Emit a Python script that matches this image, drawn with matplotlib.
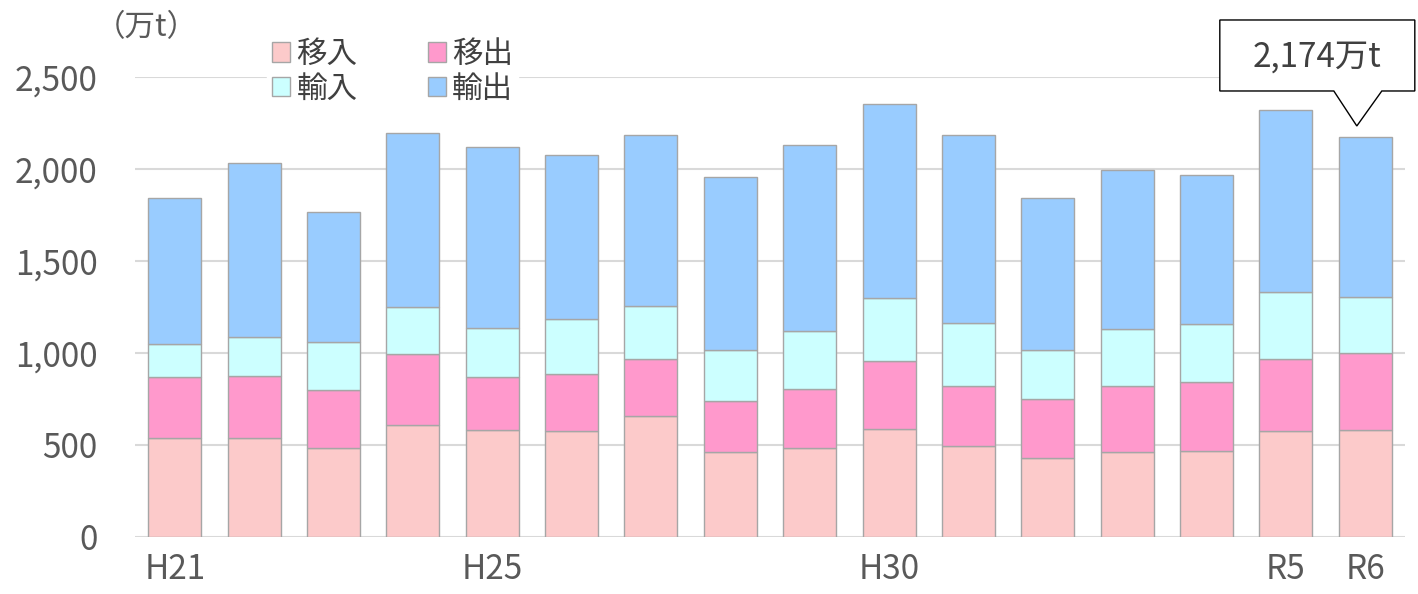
import matplotlib; matplotlib.use("Agg")
import matplotlib.pyplot as plt
import matplotlib.transforms as mtransforms
from matplotlib.patches import Polygon
import numpy as np

plt.rcParams['font.family'] = ['Noto Sans CJK JP', 'DejaVu Sans']

# 年度ごとの取扱量（万t）
years = ["H21", "H22", "H23", "H24", "H25", "H26", "H27", "H28",
         "H29", "H30", "R1", "R2", "R3", "R4", "R5", "R6"]
shown_labels = {"H21", "H25", "H30", "R5", "R6"}
iinyu = [538, 536, 486, 607, 582, 576, 656, 464, 482, 589, 493, 431, 464, 469, 574, 580]   # 移入
ishutsu = [330, 337, 311, 388, 286, 310, 310, 275, 320, 366, 326, 319, 355, 372, 393, 418]  # 移出
yunyu = [183, 214, 261, 257, 266, 301, 291, 275, 318, 342, 342, 268, 313, 318, 363, 305]    # 輸入
yushutsu = [789, 946, 707, 944, 986, 891, 930, 944, 1009, 1056, 1026, 824, 863, 807, 991, 871]  # 輸出

series = [("移入", iinyu, "#fccaca"), ("移出", ishutsu, "#ff99cc"),
          ("輸入", yunyu, "#ccffff"), ("輸出", yushutsu, "#99ccff")]

fig = plt.figure(figsize=(14.18, 5.94), dpi=100)
ax = fig.add_axes([135/1418, 1-537/594, (1405-135)/1418, (537-77)/594])

x = np.arange(len(years))
bottom = np.zeros(len(years))
bars = {}
for name, vals, col in series:
    bars[name] = ax.bar(x, vals, width=0.667, bottom=bottom, color=col,
                        edgecolor="#a6a6a6", linewidth=1.0, zorder=3, label=name)
    bottom += np.array(vals)

ax.set_xlim(-0.5, len(years) - 0.5)
ax.set_ylim(0, 2500)
ax.set_yticks(np.arange(0, 2501, 500))
ax.set_yticklabels([f"{v:,}" for v in range(0, 2501, 500)])
ax.set_xticks(x)
ax.set_xticklabels([y if y in shown_labels else "" for y in years])
ax.tick_params(axis="both", length=0, labelsize=24, colors="#595959")
ax.tick_params(axis="y", pad=27)
ax.tick_params(axis="x", pad=11)
ax.grid(axis="y", color="#d9d9d9", linewidth=1.5, zorder=0)
ax.set_axisbelow(True)
for s in ax.spines.values():
    s.set_visible(False)

fig.text(146/1418, 1-28/594, "（万t）", ha="center", va="center",
         fontsize=22, color="#595959")

# 凡例：1行目 移入・移出、2行目 輸入・輸出
handles = [bars["移入"], bars["輸入"], bars["移出"], bars["輸出"]]
labels = ["移入", "輸入", "移出", "輸出"]
leg = fig.legend(handles, labels, ncol=2, loc="upper left",
                 bbox_to_anchor=(252/1418, 1-19/594), frameon=True,
                 facecolor="white", edgecolor="white", framealpha=1,
                 fontsize=22, handlelength=0.6, handleheight=0.6,
                 handletextpad=0.2, columnspacing=2.3, labelspacing=0.12,
                 borderpad=0.15, labelcolor="#404040")

# 最新年度の合計を吹き出しで表示
total = bottom[-1]
tip = mtransforms.ScaledTranslation(x[-1], total, ax.transData)
trans = fig.dpi_scale_trans + tip
pts = np.array([(-8.5, 11), (16.5, 46), (49.5, 46), (49.5, 117),
                (-145.5, 117), (-145.5, 46), (-31.5, 46)]) / 100
ax.add_patch(Polygon(pts, closed=True, transform=trans, facecolor="white",
                     edgecolor="black", linewidth=1.0, clip_on=False, zorder=5))
ax.text(-48.5/100, 80/100, f"{int(total):,}万t", transform=trans,
        ha="center", va="center", fontsize=24, color="#404040", zorder=6)

fig.savefig("out.png", dpi=100)
